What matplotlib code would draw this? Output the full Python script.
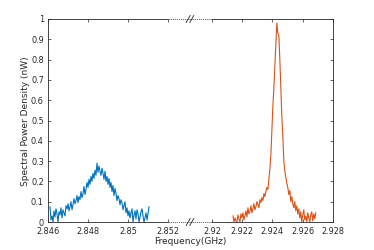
import numpy as np
import matplotlib.pyplot as plt
from matplotlib.lines import Line2D

# blue trace (lower band), evenly sampled between start and stop frequency
blue_f_start, blue_f_stop = 2.8461, 2.85105
blue_psd = [0.075, 0.01, 0.03, 0.0, 0.055, 0.025, 0.065, 0.04, 0.0, 0.05,
            0.035, 0.07, 0.02, 0.06, 0.045, 0.03, 0.08, 0.065, 0.09, 0.055,
            0.075, 0.1, 0.06, 0.085, 0.115, 0.09, 0.105, 0.13, 0.095, 0.125,
            0.11, 0.15, 0.12, 0.14, 0.175, 0.135, 0.16, 0.195, 0.17, 0.21,
            0.185, 0.225, 0.2, 0.24, 0.215, 0.255, 0.23, 0.29, 0.245, 0.275,
            0.25, 0.23, 0.265, 0.24, 0.21, 0.25, 0.2, 0.225, 0.185, 0.215,
            0.17, 0.195, 0.15, 0.18, 0.13, 0.165, 0.14, 0.105, 0.13, 0.115,
            0.085, 0.11, 0.095, 0.06, 0.08, 0.1, 0.045, 0.07, 0.03, 0.055,
            0.02, 0.045, 0.065, 0.0, 0.035, 0.055, 0.015, 0.06, 0.04, 0.0,
            0.025, 0.05, 0.065, 0.03, 0.0, 0.02, 0.045, 0.01, 0.04, 0.075]

# orange trace (upper band)
red_f_start, red_f_stop = 2.92139, 2.92686
red_psd = [0.03, 0.0, 0.02, 0.005, 0.0, 0.035, 0.015, 0.0, 0.04, 0.02,
           0.045, 0.01, 0.03, 0.055, 0.025, 0.07, 0.04, 0.05, 0.08, 0.045,
           0.065, 0.09, 0.06, 0.075, 0.1, 0.085, 0.07, 0.11, 0.095, 0.12,
           0.105, 0.14, 0.125, 0.15, 0.17, 0.16, 0.21, 0.26, 0.33, 0.45,
           0.57, 0.66, 0.77, 0.88, 0.98, 0.93, 0.92, 0.8, 0.66, 0.52,
           0.42, 0.3, 0.25, 0.22, 0.19, 0.17, 0.135, 0.155, 0.1, 0.125,
           0.09, 0.07, 0.1, 0.055, 0.08, 0.04, 0.065, 0.02, 0.05, 0.0,
           0.035, 0.06, 0.01, 0.03, 0.0, 0.045, 0.02, 0.0, 0.035, 0.05,
           0.005, 0.04, 0.015, 0.045]

left_ticks = [2.846, 2.848, 2.85, 2.852]
left_labels = ['2.846', '2.848', '2.85', '2.852']
right_ticks = [2.92, 2.922, 2.924, 2.926, 2.928]
right_labels = ['2.92', '2.922', '2.924', '2.926', '2.928']
y_ticks = [0, 0.1, 0.2, 0.3, 0.4, 0.5, 0.6, 0.7, 0.8, 0.9, 1]
y_labels = ['0', '0.1', '0.2', '0.3', '0.4', '0.5', '0.6', '0.7', '0.8', '0.9', '1']

W, H = 374, 250
ink = '#262626'
plt.rcParams['font.family'] = 'DejaVu Sans'

fig = plt.figure(figsize=(W / 100, H / 100), dpi=100)
x0, xb, x1 = 48, 190, 333
y_bot, y_top = 222, 19
ax1 = fig.add_axes([x0 / W, 1 - y_bot / H, (xb - x0) / W, (y_bot - y_top) / H])
ax2 = fig.add_axes([xb / W, 1 - y_bot / H, (x1 - xb) / W, (y_bot - y_top) / H])

ax1.plot(np.linspace(blue_f_start, blue_f_stop, len(blue_psd)), blue_psd,
         color='#0072BD', lw=0.8)
ax2.plot(np.linspace(red_f_start, red_f_stop, len(red_psd)), red_psd,
         color='#D95319', lw=0.8)

ax1.set_xlim(2.846, 2.8531)
ax2.set_xlim(2.91855, 2.928)

for ax in (ax1, ax2):
    ax.set_ylim(0, 1)
    ax.set_yticks(y_ticks)
    ax.tick_params(direction='in', length=2.2, width=0.5, colors=ink,
                   labelsize=5.9, top=True)
    ax.tick_params(axis='x', pad=3.5)
    ax.tick_params(axis='y', pad=3)
    for s in ax.spines.values():
        s.set_visible(False)
    ax.patch.set_alpha(0)

ax1.set_xticks(left_ticks)
ax1.set_xticklabels(left_labels)
ax1.set_yticklabels(y_labels)
ax1.spines['left'].set_visible(True)
ax1.spines['left'].set_linewidth(0.6)
ax1.spines['left'].set_color(ink)

ax2.set_xticks(right_ticks)
ax2.set_xticklabels(right_labels)
ax2.tick_params(axis='y', left=False, right=True, labelleft=False)
ax2.spines['right'].set_visible(True)
ax2.spines['right'].set_linewidth(0.6)
ax2.spines['right'].set_color(ink)

# top/bottom frame: solid over the shown range, dashed across the gap
for yy in (0, 1):
    ax1.plot([left_ticks[0], left_ticks[-1]], [yy, yy], color=ink, lw=0.6,
             transform=ax1.get_xaxis_transform(), clip_on=False)
    ax1.plot([left_ticks[-1], ax1.get_xlim()[1]], [yy, yy], color='#555555',
             lw=0.6, ls=(0, (1.5, 1)), transform=ax1.get_xaxis_transform(), clip_on=False)
    ax2.plot([ax2.get_xlim()[0], right_ticks[0]], [yy, yy], color='#555555',
             lw=0.6, ls=(0, (1.5, 1)), transform=ax2.get_xaxis_transform(), clip_on=False)
    ax2.plot([right_ticks[0], right_ticks[-1]], [yy, yy], color=ink, lw=0.6,
             transform=ax2.get_xaxis_transform(), clip_on=False)

# break marks
for py in (y_top, y_bot):
    for dx in (-1.8, 1.8):
        cx = xb + dx
        fig.add_artist(Line2D([(cx - 2) / W, (cx + 2) / W],
                              [1 - (py + 3.5) / H, 1 - (py - 3.5) / H],
                              color=ink, lw=0.6, transform=fig.transFigure))

fig.text(26 / W, 1 - 121 / H, 'Spectral Power Density (nW)', rotation=90,
         ha='center', va='center', fontsize=6.5, color=ink)
fig.text((x0 + x1) / 2 / W, 1 - 241 / H, 'Frequency(GHz)', ha='center',
         va='center', fontsize=6.5, color=ink)

fig.savefig('out.png', dpi=100)
